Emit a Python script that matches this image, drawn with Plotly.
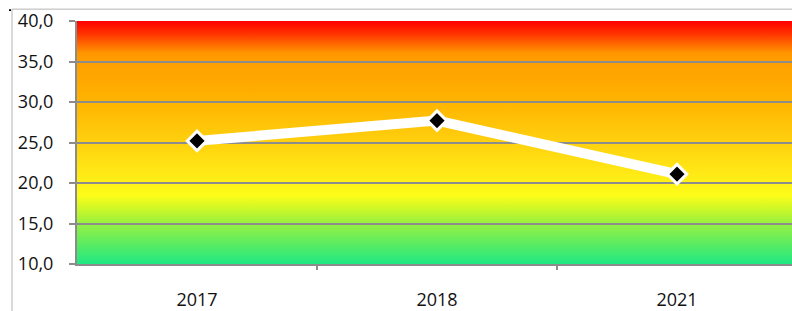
import base64
import plotly.graph_objects as go

years = ["2017", "2018", "2021"]
values = [25.2, 27.7, 21.1]
y_ticks = [10, 15, 20, 25, 30, 35, 40]

# vertical gradient background (top = 40, bottom = 10)
stops = [
    (0.00, "#FF0000"), (0.05, "#FF3000"), (0.13, "#FF9500"), (0.167, "#FF9F00"),
    (0.333, "#FFB400"), (0.50, "#FFD10F"), (0.667, "#FFF117"), (0.72, "#FCFD1A"),
    (0.78, "#C6F72A"), (0.833, "#98F040"), (1.00, "#1FE884"),
]
stop_xml = "".join(f'<stop offset="{o}" stop-color="{c}"/>' for o, c in stops)
svg = ('<svg xmlns="http://www.w3.org/2000/svg" width="10" height="300" preserveAspectRatio="none">'
       '<defs><linearGradient id="g" x1="0" y1="0" x2="0" y2="1">' + stop_xml +
       '</linearGradient></defs><rect width="10" height="300" fill="url(#g)"/></svg>')
src = "data:image/svg+xml;base64," + base64.b64encode(svg.encode()).decode()

fig = go.Figure()
fig.add_trace(go.Scatter(
    x=years, y=values, mode="lines+markers",
    line=dict(color="white", width=10),
    marker=dict(symbol="diamond", size=15, color="black",
                line=dict(color="white", width=3)),
    showlegend=False, hoverinfo="skip",
))

W, H = 792, 311
L, T, B = 77, 21, 44
PH = H - T - B
PW = W - L
fig.update_layout(
    width=W, height=H,
    margin=dict(l=L, r=0, t=T, b=B, pad=0),
    paper_bgcolor="white", plot_bgcolor="rgba(0,0,0,0)",
    separators=",.",
    font=dict(family="Open Sans, Liberation Sans, sans-serif", size=18, color="#111"),
    images=[dict(source=src, xref="paper", yref="paper", x=0, y=1, sizex=1, sizey=1,
                 sizing="stretch", layer="below", xanchor="left", yanchor="top")],
    xaxis=dict(type="category", range=[-0.5, 2.5 - 5 / 240], showgrid=False,
               showline=True, linecolor="#8c8c8c", linewidth=2,
               ticks="", tickfont=dict(size=18), ticklabelstandoff=18,
               zeroline=False, fixedrange=True),
    yaxis=dict(range=[10, 40], tickvals=y_ticks, tickformat=".1f",
               showgrid=True, gridcolor="#8c8c8c", gridwidth=2,
               showline=True, linecolor="#8c8c8c", linewidth=2,
               ticks="outside", ticklen=6, tickcolor="#8c8c8c", tickwidth=2,
               tickfont=dict(size=18), ticklabelstandoff=12,
               zeroline=False, fixedrange=True),
    shapes=[
        # chart-area border (top and left visible)
        dict(type="line", xref="paper", yref="paper",
             x0=(12 - L) / PW, x1=1.0, y0=(H - B - 9) / PH, y1=(H - B - 9) / PH,
             line=dict(color="#b4b4b4", width=1)),
        dict(type="line", xref="paper", yref="paper",
             x0=(12 - L) / PW, x1=(12 - L) / PW,
             y0=(H - B - 9) / PH, y1=-(B + 5) / PH,
             line=dict(color="#b4b4b4", width=1)),
        # small corner mark
        dict(type="rect", xref="paper", yref="paper",
             x0=(9 - L) / PW, x1=(11 - L) / PW,
             y0=(H - B - 11) / PH, y1=(H - B - 9) / PH,
             line=dict(width=0), fillcolor="black"),
    ],
)

# x-axis tick marks between categories
for b in [0.5, 1.5]:
    fig.add_shape(type="line", xref="x", yref="paper", x0=b, x1=b, y0=0, y1=-6 / PH,
                  line=dict(color="#8c8c8c", width=2))

fig.write_html("out.html", config={"displayModeBar": False},
               post_script="document.body.style.margin='0';document.body.style.overflow='hidden';")
